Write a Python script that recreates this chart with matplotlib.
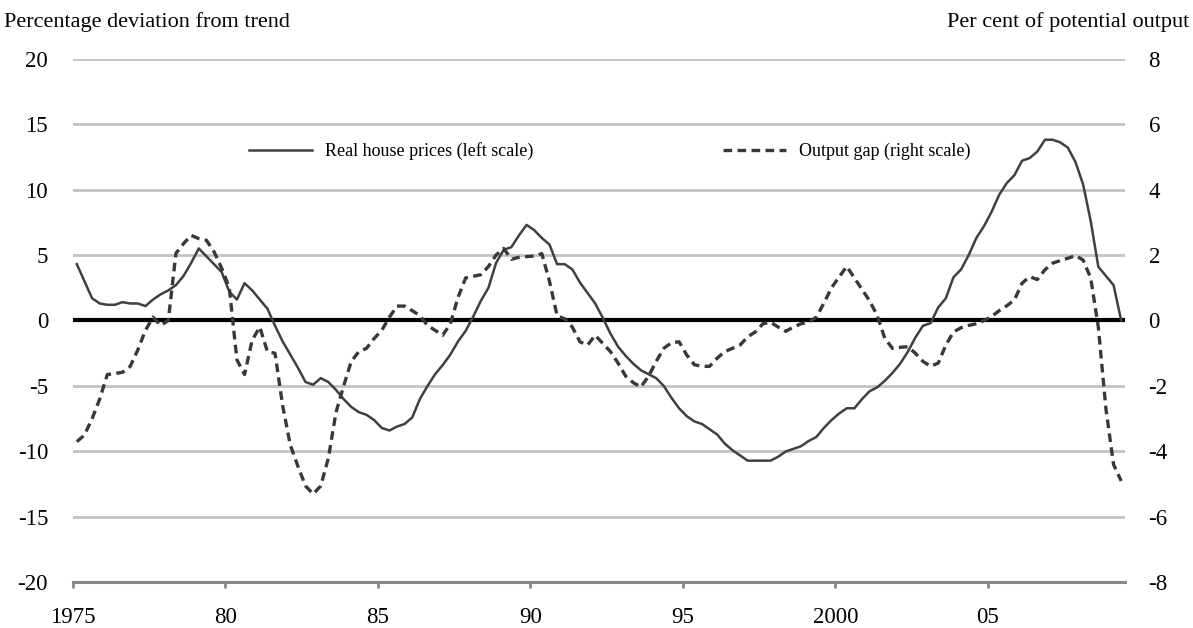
"""
Real house prices vs output gap, 1975-2009 (quarterly)
"""

import numpy as np
import pandas as pd
import matplotlib
matplotlib.use('Agg')
import matplotlib.pyplot as plt

plt.rcParams['font.family'] = ['Liberation Serif', 'DejaVu Serif']
plt.rcParams['axes.unicode_minus'] = False

# ============================================================================
# DADOS (trimestrais, 1975Q1 - 2009Q2)
# ============================================================================

quarters = pd.period_range('1975Q1', '2009Q2', freq='Q')

# Real house prices, % deviation from trend (left scale)
house_prices = [
    4.3, 3.0, 1.7, 1.3,   1.2, 1.2, 1.4, 1.3,   1.3, 1.1, 1.6, 2.0,
    2.3, 2.7, 3.4, 4.4,   5.5, 4.9, 4.3, 3.7,   2.2, 1.6, 2.85, 2.3,
    1.6, 0.9, -0.4, -1.6,   -2.6, -3.6, -4.7, -4.9,   -4.4, -4.7, -5.3, -6.0,
    -6.6, -7.0, -7.2, -7.6,   -8.2, -8.4, -8.1, -7.9,   -7.4, -6.0, -5.0, -4.1,
    -3.4, -2.6, -1.6, -0.8,   0.3, 1.5, 2.5, 4.4,   5.4, 5.6, 6.5, 7.3,
    6.9, 6.3, 5.8, 4.3,   4.3, 3.9, 2.9, 2.1,   1.3, 0.2, -1.0, -2.0,
    -2.7, -3.3, -3.8, -4.1,   -4.4, -5.0, -5.9, -6.7,   -7.3, -7.7, -7.9, -8.3,
    -8.7, -9.4, -9.9, -10.3,   -10.7, -10.7, -10.7, -10.7,   -10.4, -10.0, -9.8, -9.6,
    -9.2, -8.9, -8.2, -7.6,   -7.1, -6.7, -6.7, -6.0,   -5.4, -5.1, -4.6, -4.0,
    -3.3, -2.4, -1.3, -0.4,   -0.2, 1.0, 1.7, 3.3,   3.9, 5.0, 6.3, 7.2,
    8.3, 9.6, 10.5, 11.1,   12.2, 12.4, 12.9, 13.8,   13.8, 13.6, 13.2, 12.1,
    10.4, 7.6, 4.1, 3.4,   2.7, 0.0,
]

# Output gap, % of potential output (right scale)
output_gap = [
    -3.7, -3.5, -3.0, -2.4,   -1.65, -1.62, -1.58, -1.4,   -0.9, -0.3, 0.1, -0.15,
    0.0, 2.05, 2.35, 2.6,   2.5, 2.45, 2.1, 1.6,   1.0, -1.2, -1.65, -0.6,
    -0.2, -0.95, -1.0, -2.6,   -3.8, -4.45, -5.05, -5.3,   -5.05, -4.2, -2.8, -2.0,
    -1.25, -0.95, -0.85, -0.55,   -0.3, 0.1, 0.44, 0.44,   0.3, 0.15, -0.15, -0.3,
    -0.45, -0.1, 0.7, 1.3,   1.35, 1.4, 1.65, 2.0,   2.2, 1.87, 1.93, 1.95,
    1.97, 2.04, 1.2, 0.15,   0.05, -0.2, -0.65, -0.75,   -0.45, -0.7, -0.95, -1.3,
    -1.7, -1.9, -2.03, -1.7,   -1.25, -0.85, -0.68, -0.65,   -1.05, -1.35, -1.4, -1.4,
    -1.15, -0.95, -0.85, -0.75,   -0.5, -0.35, -0.1, -0.05,   -0.2, -0.33, -0.2, -0.1,
    -0.05, 0.1, 0.53, 1.0,   1.33, 1.65, 1.3, 0.95,   0.6, 0.15, -0.55, -0.85,
    -0.82, -0.8, -1.0, -1.25,   -1.4, -1.3, -0.75, -0.35,   -0.22, -0.15, -0.1, 0.0,
    0.12, 0.3, 0.45, 0.63,   1.14, 1.34, 1.25, 1.55,   1.75, 1.83, 1.9, 1.98,
    1.85, 1.3, -0.2, -2.7,   -4.4, -4.9,
]

tick_years = [1975, 1980, 1985, 1990, 1995, 2000, 2005]
tick_labels = ['1975', '80', '85', '90', '95', '2000', '05']

# posição de cada trimestre no meio da categoria
t = quarters.year + (quarters.quarter - 0.5) / 4

# ============================================================================
# GRÁFICO
# ============================================================================

fig = plt.figure(figsize=(11.93, 6.28), dpi=100)
ax = fig.add_axes([0.0612, 0.0725, 0.8818, 0.8343])
ax2 = ax.twinx()

dark = '#404040'
ax.set_xlim(1975, 2009.5)
ax.set_ylim(-20, 20)
ax2.set_ylim(-8, 8)

ax.set_yticks(np.arange(-20, 21, 5))
ax2.set_yticks(np.arange(-8, 9, 2))
ax.set_xticks(tick_years)
ax.set_xticklabels(tick_labels)

# grelha horizontal
for y in np.arange(-15, 21, 5):
    ax.axhline(y, color='#c3c3c3', lw=2.0, zorder=0)
ax.axhline(0, color='black', lw=3.0, zorder=1)

for side in ['top', 'left', 'right']:
    ax.spines[side].set_visible(False)
    ax2.spines[side].set_visible(False)
ax2.spines['bottom'].set_visible(False)
ax.spines['bottom'].set_color('#878787')
ax.spines['bottom'].set_linewidth(2.2)

ax.tick_params(axis='x', direction='out', length=4, width=2, color='#878787',
               labelsize=16.5, pad=14)
ax.tick_params(axis='y', length=0, labelsize=16.5, pad=18)
ax2.tick_params(axis='y', length=0, labelsize=16.5, pad=17)

l1, = ax.plot(t, house_prices, color=dark, lw=1.8, zorder=3,
              label='Real house prices (left scale)')
l2, = ax2.plot(t, output_gap, color='#383838', lw=2.4, linestyle=(0, (2.6, 1.6)),
               zorder=3, label='Output gap (right scale)')

ax.legend(handles=[l1, l2], loc='center', bbox_to_anchor=(0.51, 0.823),
          ncol=2, frameon=False, fontsize=13, handlelength=3.5,
          handletextpad=0.7, columnspacing=10.5)

fig.text(0.003, 0.965, 'Percentage deviation from trend', fontsize=16,
         ha='left', va='center')
fig.text(0.997, 0.965, 'Per cent of potential output', fontsize=16,
         ha='right', va='center')

fig.savefig('out.png', dpi=100)
